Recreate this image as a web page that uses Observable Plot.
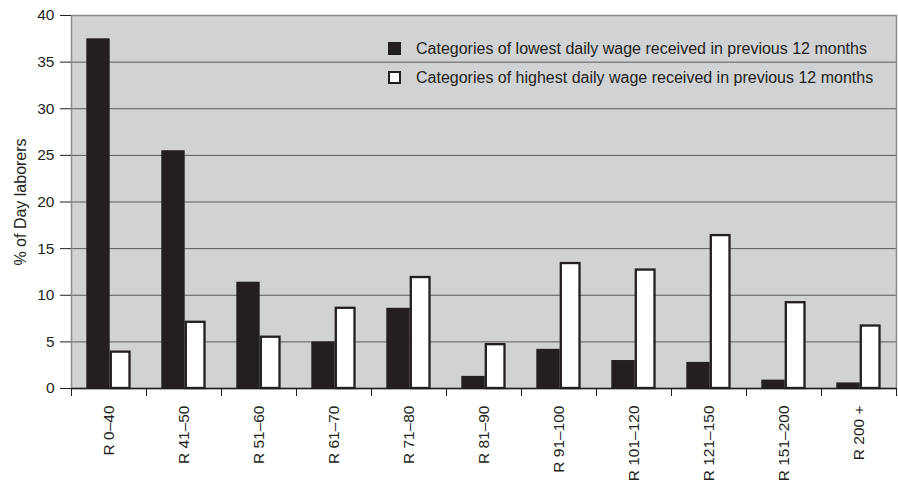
<!DOCTYPE html>
<html>
<head>
<meta charset="utf-8">
<script src="https://cdn.jsdelivr.net/npm/d3@7"></script>
<script src="https://cdn.jsdelivr.net/npm/@observablehq/plot@0.6"></script>
<style>
  html, body { margin: 0; padding: 0; background: #fff; }
  #wrap { position: relative; width: 898px; height: 484px; font-family: "Liberation Sans", Arial, sans-serif; }
  #legend { position: absolute; left: 388px; top: 34px; font-size: 16px; color: #231f20; line-height: 29px; }
  .row { display: flex; align-items: center; white-space: nowrap; }
  .sw { width: 13px; height: 13px; box-sizing: border-box; margin-right: 15px; }
</style>
</head>
<body>
<div id="wrap"></div>
<script>
const categories = ["R 0\u201340", "R 41\u201350", "R 51\u201360", "R 61\u201370", "R 71\u201380", "R 81\u201390",
  "R 91\u2013100", "R 101\u2013120", "R 121\u2013150", "R 151\u2013200", "R 200 +"];
const lowestWage = [37.5, 25.5, 11.4, 5.0, 8.6, 1.3, 4.2, 3.0, 2.8, 0.9, 0.6];
const highestWage = [3.9, 7.1, 5.5, 8.6, 11.9, 4.7, 13.4, 12.7, 16.4, 9.2, 6.7];
const seriesNames = ["Categories of lowest daily wage received in previous 12 months",
  "Categories of highest daily wage received in previous 12 months"];
const yTicks = [0, 5, 10, 15, 20, 25, 30, 35, 40];

const data = categories.map((c, i) => ({cat: c, low: lowestWage[i], high: highestWage[i]}));
const ink = "#231f20";

const chart = Plot.plot({
  width: 898,
  height: 484,
  marginLeft: 71,
  marginRight: 2,
  marginTop: 15,
  marginBottom: 96,
  style: {fontFamily: "Liberation Sans, Arial, sans-serif", fontSize: "15.5px", color: ink, background: "transparent"},
  x: {domain: categories, padding: 0, label: null},
  y: {domain: [0, 40], ticks: yTicks, label: "% of Day laborers"},
  marks: [
    Plot.frame({fill: "#d1d2d4", stroke: null}),
    Plot.gridY(yTicks.slice(1, -1), {stroke: "#5a5a5a", strokeOpacity: 1, strokeWidth: 1}),
    Plot.frame({stroke: "#8c8c8c", strokeWidth: 1.5}),
    Plot.barY(data, {x: "cat", y: "low", fill: ink, insetLeft: 15.3, insetRight: 36.3}),
    Plot.barY(data, {x: "cat", y: "high", fill: "white", stroke: ink, strokeWidth: 2.3, insetLeft: 39.8, insetRight: 16.5}),
    Plot.ruleY([0], {stroke: ink, strokeWidth: 1.5}),
    Plot.axisY(yTicks, {tickSize: 11, tickPadding: 6, stroke: ink, fill: ink, fontSize: 15.5, label: null}),
    Plot.axisY({ticks: [], tickSize: 0, label: "% of Day laborers", labelAnchor: "center", labelOffset: 57,
      labelArrow: "none", fontSize: 16, fill: ink}),
    Plot.axisX({tickSize: 0, tickPadding: 17, tickRotate: -90, fill: ink, fontSize: 15.5, label: null}),
    Plot.axisX({tickSize: 8, tickFormat: () => "", dx: -37.5, stroke: ink, label: null}),
    Plot.axisX([categories[categories.length - 1]], {tickSize: 8, tickFormat: () => "", dx: 37.5, stroke: ink, label: null})
  ]
});

const wrap = document.getElementById("wrap");
wrap.appendChild(chart);

const legend = document.createElement("div");
legend.id = "legend";
seriesNames.forEach((name, i) => {
  const row = document.createElement("div");
  row.className = "row";
  const sw = document.createElement("div");
  sw.className = "sw";
  sw.style.background = i === 0 ? ink : "white";
  sw.style.border = i === 0 ? "none" : "2.5px solid " + ink;
  const t = document.createElement("span");
  t.textContent = name;
  row.appendChild(sw);
  row.appendChild(t);
  legend.appendChild(row);
});
wrap.appendChild(legend);
</script>
</body>
</html>
